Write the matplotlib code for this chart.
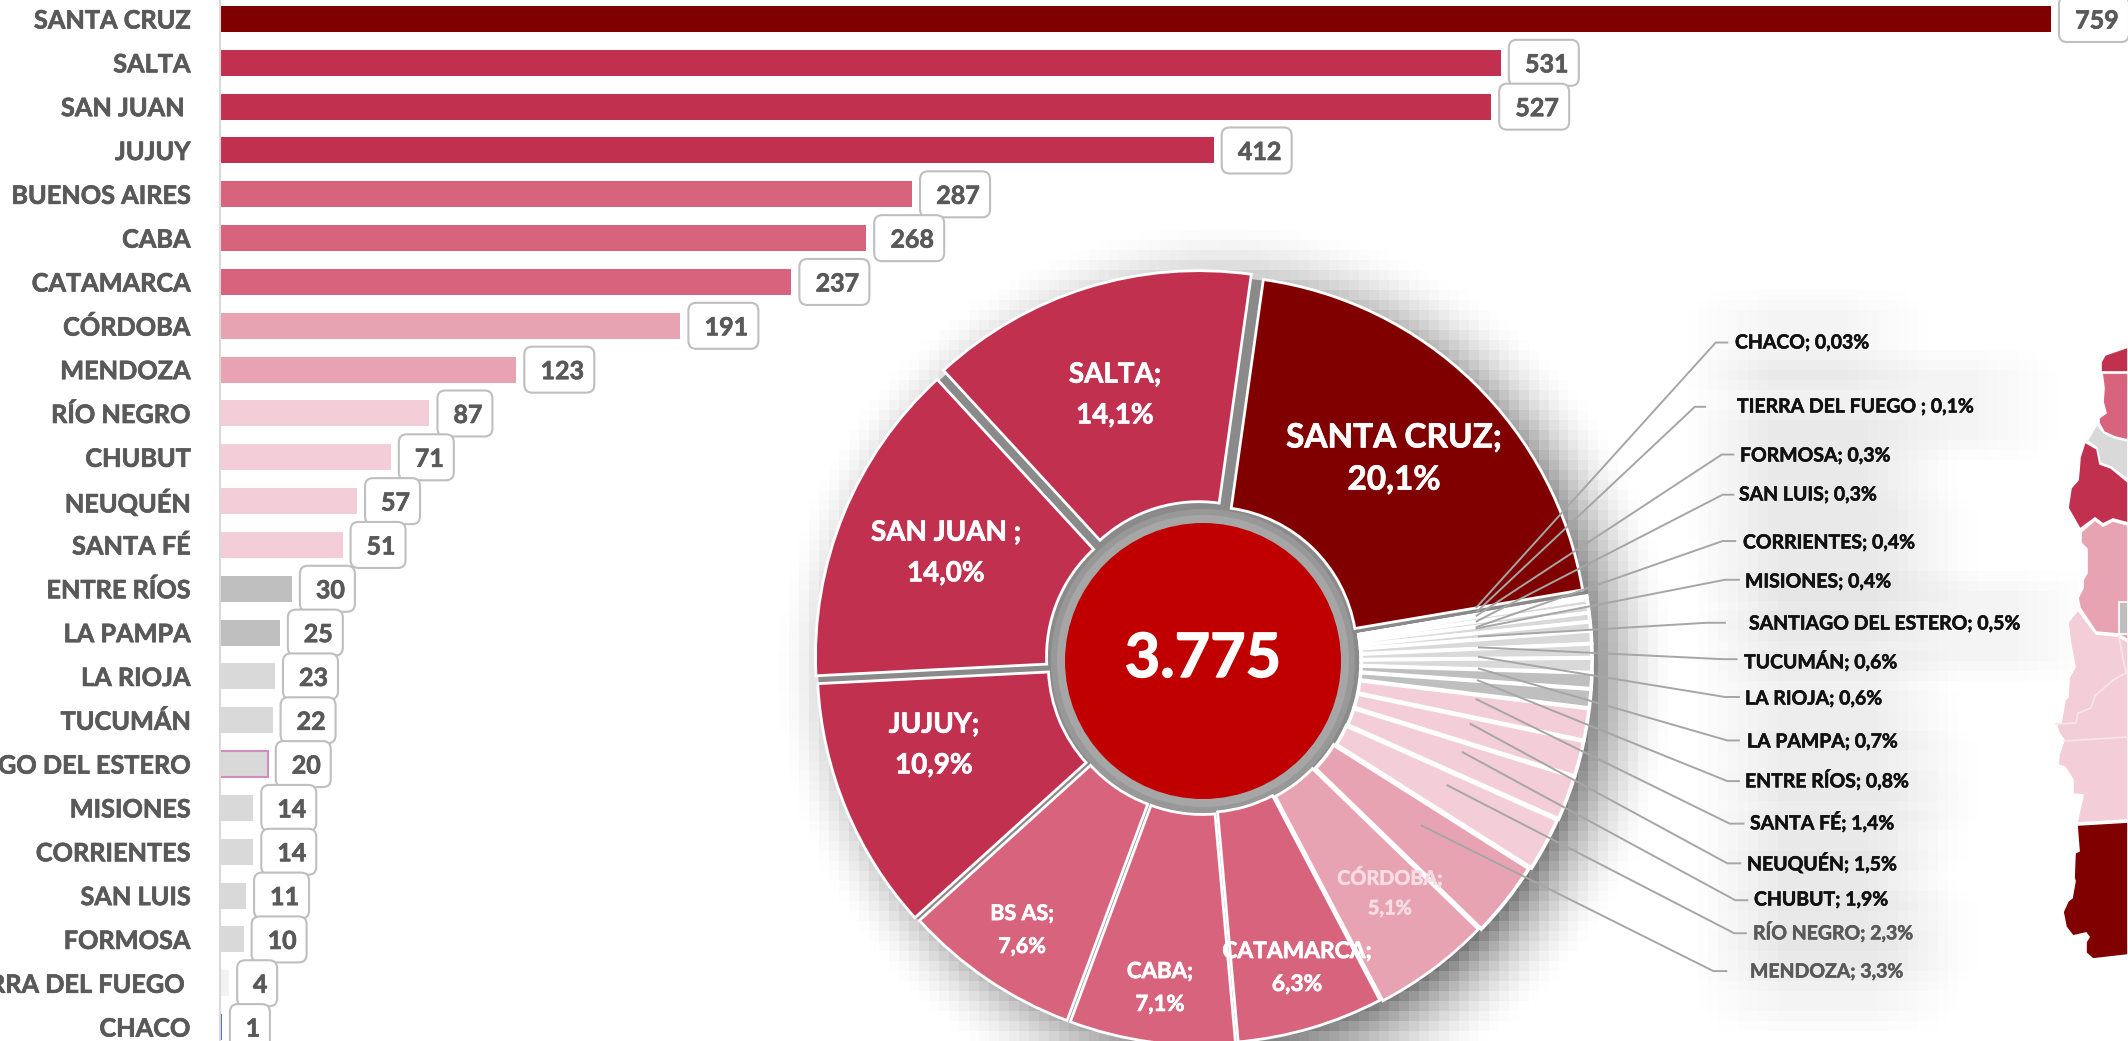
import numpy as np
import matplotlib
matplotlib.use('Agg')
import matplotlib.pyplot as plt
import matplotlib.patheffects as pe
from matplotlib.patches import Circle, Polygon, FancyBboxPatch
from matplotlib.transforms import IdentityTransform

plt.rcParams['font.family'] = ['Lato', 'DejaVu Sans']
plt.rcParams['font.weight'] = 'bold'

W, H = 2128, 1041

# ---- datos ----
provincias = ['SANTA CRUZ', 'SALTA', 'SAN JUAN ', 'JUJUY', 'BUENOS AIRES', 'CABA', 'CATAMARCA',
              'CÓRDOBA', 'MENDOZA', 'RÍO NEGRO', 'CHUBUT', 'NEUQUÉN', 'SANTA FÉ', 'ENTRE RÍOS',
              'LA PAMPA', 'LA RIOJA', 'TUCUMÁN', 'SANTIAGO DEL ESTERO', 'MISIONES', 'CORRIENTES',
              'SAN LUIS', 'FORMOSA', 'TIERRA DEL FUEGO ', 'CHACO']
valores = [759, 531, 527, 412, 287, 268, 237, 191, 123, 87, 71, 57, 51, 30, 25, 23, 22, 20,
           14, 14, 11, 10, 4, 1]
total = '3.775'

ROJO_OSC, ROJO, ROSA, ROSA2, ROSA3 = '#800000', '#C1304F', '#D8637D', '#E8A3B3', '#F3CDD7'
GRIS, GRIS2, GRIS3 = '#BFBFBF', '#D9D9D9', '#F2F2F2'
colores = [ROJO_OSC, ROJO, ROJO, ROJO, ROSA, ROSA, ROSA, ROSA2, ROSA2, ROSA3, ROSA3, ROSA3, ROSA3,
           GRIS, GRIS, GRIS2, GRIS2, GRIS2, GRIS2, GRIS2, GRIS2, GRIS2, GRIS3, '#FFFFFF']

# etiquetas de la torta: texto, x, y (px desde arriba), tamaño, interlineado
etq_torta = [('SANTA CRUZ;\n20,1%', 1394, 459, 24, 1.55), ('SALTA;\n14,1%', 1115, 395, 20, 1.7),
             ('SAN JUAN ;\n14,0%', 946, 553, 20, 1.7), ('JUJUY;\n10,9%', 934, 745, 20, 1.7),
             ('BS AS;\n7,6%', 1022, 930, 15.5, 1.7), ('CABA;\n7,1%', 1160, 988, 16, 1.7),
             ('CATAMARCA;\n6,3%', 1297, 968, 16.4, 1.7), ('CÓRDOBA;\n5,1%', 1390, 892, 14.3, 1.6)]

# etiquetas externas y lineas guia (inicio, codo, fin en coordenadas del recorte)
etq_ext = ['CHACO; 0,03%', 'TIERRA DEL FUEGO ; 0,1%', 'FORMOSA; 0,3%', 'SAN LUIS; 0,3%',
           'CORRIENTES; 0,4%', 'MISIONES; 0,4%', 'SANTIAGO DEL ESTERO; 0,5%', 'TUCUMÁN; 0,6%',
           'LA RIOJA; 0,6%', 'LA PAMPA; 0,7%', 'ENTRE RÍOS; 0,8%', 'SANTA FÉ; 1,4%',
           'NEUQUÉN; 1,5%', 'CHUBUT; 1,9%', 'RÍO NEGRO; 2,3%', 'MENDOZA; 3,3%']
etq_x = [1735, 1737, 1740, 1739, 1743, 1745, 1749, 1744, 1745, 1747, 1745, 1750, 1747, 1754, 1753, 1750]
etq_y = [343, 407, 456, 495, 543, 582, 624, 661, 699, 742, 780, 822, 863, 900, 932, 972]
guias = [((165, 650), (680, 90), (705, 90)), ((165, 660), (635, 226), (657, 226)),
         ((165, 668), (693, 327), (718, 327)), ((165, 680), (695, 412), (718, 412)),
         ((165, 692), (695, 510), (722, 510)), ((165, 695), (700, 592), (730, 592)),
         ((170, 712), (660, 683), (700, 683)), ((170, 735), (695, 760), (725, 760)),
         ((170, 755), (700, 840), (730, 840)), ((170, 780), (705, 932), (730, 932)),
         ((168, 805), (705, 1018), (730, 1018)), ((165, 845), (710, 1108), (740, 1108)),
         ((152, 897), (705, 1192), (733, 1192)), ((135, 957), (722, 1270), (748, 1270)),
         ((102, 1027), (720, 1340), (745, 1340)), ((47, 1112), (675, 1420), (703, 1420))]

# mapa recortado (px desde arriba)
mapa = [
    (ROJO, [(2101, 372), (2101, 362), (2105, 355), (2128, 347), (2128, 372)]),
    (ROSA, [(2102, 373), (2104, 388), (2103, 402), (2106, 413), (2099, 418), (2099, 423), (2104, 432),
            (2115, 437), (2128, 440), (2128, 373)]),
    (GRIS2, [(2097, 424), (2087, 441), (2097, 448), (2100, 463), (2111, 467), (2128, 480), (2128, 441),
             (2115, 438), (2104, 433)]),
    (ROJO, [(2085, 442), (2080, 457), (2079, 470), (2078, 480), (2071, 488), (2068, 508), (2080, 529),
            (2095, 518), (2103, 524), (2113, 519), (2128, 523), (2128, 482), (2111, 468), (2100, 464),
            (2097, 449)]),
    (ROSA2, [(2081, 532), (2081, 543), (2087, 549), (2087, 573), (2083, 580), (2083, 588), (2078, 598),
             (2080, 608), (2096, 632), (2118, 634), (2128, 640), (2128, 525), (2113, 521), (2103, 526),
             (2095, 520)]),
    (ROSA3, [(2078, 610), (2068, 622), (2070, 640), (2075, 667), (2069, 678), (2068, 697), (2065, 700),
             (2061, 723), (2056, 724), (2059, 733), (2064, 740), (2059, 755), (2058, 765), (2065, 767),
             (2073, 780), (2073, 794), (2083, 795), (2077, 823), (2128, 820), (2128, 642), (2118, 636),
             (2096, 634)]),
    (ROJO_OSC, [(2077, 825), (2079, 851), (2075, 853), (2074, 878), (2075, 881), (2072, 898), (2068, 901),
                (2063, 912), (2066, 927), (2073, 936), (2086, 933), (2089, 937), (2086, 942), (2086, 953),
                (2093, 959), (2128, 955), (2128, 822)]),
    (GRIS, [(2119, 602), (2128, 602), (2128, 634), (2119, 634)]),
]
mapa_lineas = [[(2119, 636), (2122, 653), (2126, 673), (2113, 680), (2095, 696), (2091, 708), (2078, 713),
                (2076, 723), (2056, 724)], [(2064, 741), (2128, 737)]]


def grueso(txt, col, ancho=0.5):
    # Lato Bold queda algo mas fino que el original
    txt.set_path_effects([pe.withStroke(linewidth=ancho, foreground=col)])


# ---- barras ----
fig = plt.figure(figsize=(W / 100, H / 100), dpi=100, facecolor='white')
x0, px_unidad = 219.5, (2051 - 219.5) / 759
y0, paso = 19.0, 43.83
ax_b = fig.add_axes([x0 / W, 0, 1 - x0 / W, 1], zorder=1)
y = np.arange(len(valores))
barras = ax_b.barh(y, valores, height=26 / paso, color=colores)
barras[17].set_edgecolor('#D08CC0')
barras[17].set_linewidth(1.5)
barras[23].set_facecolor('#4472C4')
ax_b.set_xlim(0, (W - x0) / px_unidad)
ax_b.set_ylim((H - y0) / paso, -y0 / paso)
ax_b.set_yticks(y, provincias, fontsize=18.2, color='#595959', fontweight='bold')
for lab in ax_b.get_yticklabels():
    grueso(lab, '#595959')
ax_b.tick_params(axis='y', length=0, pad=21)
ax_b.set_xticks([])
for s in ['top', 'right', 'bottom']:
    ax_b.spines[s].set_visible(False)
ax_b.spines['left'].set_color('#D9D9D9')
ax_b.spines['left'].set_linewidth(1.5)

# cajas de valor: ancho fijo segun cantidad de digitos
ancho_caja = {1: 40, 2: 55, 3: 70}
for yi, v in zip(y, valores):
    px, py = ax_b.transData.transform((v, yi))
    w = ancho_caja[len(str(v))]
    ax_b.add_patch(FancyBboxPatch((px + 8, py - 23), w, 46, boxstyle='round,pad=0,rounding_size=8',
                                  fc='white', ec='#BFBFBF', lw=1.5, transform=IdentityTransform(),
                                  clip_on=False, zorder=3))
    t = ax_b.annotate(str(v), (v, yi), xytext=(px + 8 + w / 2 + 3, py), xycoords='data', textcoords='figure pixels',
                      ha='center', va='center_baseline', fontsize=18, color='#595959', fontweight='bold',
                      annotation_clip=False, zorder=4)
    grueso(t, '#595959')

# ---- capa en pixeles: sombra, mapa, torta ----
ax = fig.add_axes([0, 0, 1, 1], zorder=2)
ax.patch.set_alpha(0)
cx, cy, R = 1203, H - 661, 377

# sombra difusa de la torta y de las etiquetas
step = 10
xs = np.arange(step / 2, W, step)
ys = np.arange(step / 2, H, step)
xx, yy = np.meshgrid(xs, ys)
d = np.hypot(xx - (cx + 25), yy - (661 + 12))
sombra = 0.72 * np.clip((385 + 70 - d) / 110, 0, 1) ** 2
glow = np.zeros_like(xx)
for t, lx, ly in zip(etq_ext, etq_x, etq_y):
    glow[(xx > lx - 10) & (xx < lx + len(t) * 12 + 10) & (yy > ly - 14) & (yy < ly + 14)] = 1
k = np.ones(9) / 9
glow = np.apply_along_axis(lambda f: np.convolve(f, k, 'same'), 0, glow)
glow = np.apply_along_axis(lambda f: np.convolve(f, k, 'same'), 1, glow)
alfa = np.maximum(sombra, 0.13 * glow)
rgba = np.zeros(xx.shape + (4,))
rgba[..., 3] = alfa
ax.imshow(rgba, extent=(0, W, 0, H), origin='upper', aspect='auto', interpolation='nearest', zorder=0)

for col, pts in mapa:
    ax.add_patch(Polygon([(a, H - b) for a, b in pts], closed=True, fc=col, ec='white', lw=1.2, zorder=1))
for pts in mapa_lineas:
    ax.plot([a for a, b in pts], [H - b for a, b in pts], color='#F7E6EB', lw=1.2, zorder=1.5)

ax.add_patch(Circle((cx, cy), R + 8, fc='#8A8A8A', ec='none', zorder=1))

# torta: sentido horario desde Santa Cruz
v_torta = [valores[0]] + valores[:0:-1]
c_torta = [colores[0]] + colores[:0:-1]
explode = [0.03] + [0.032] * 12 + [0.032, 0.032, 0.03, 0.025, 0.02, 0.015, 0.02, 0.02, 0.025, 0.03, 0.037, 0.053]
explode = explode[:len(v_torta)]
cunas, _ = ax.pie(v_torta, colors=c_torta, explode=[e * R for e in explode], startangle=82, counterclock=False,
                  center=(cx, cy), radius=R, frame=True,
                  wedgeprops=dict(width=R - 146, edgecolor='white', linewidth=2, zorder=2))
for c in cunas[1:17]:
    c.set_linewidth(2.6)
for r, col in zip([158, 152, 146], ['#8A8A8A', '#989898', '#A6A6A6']):
    ax.add_patch(Circle((cx, cy), r, fc=col, ec='none', zorder=1.5))
ax.add_patch(Circle((cx, cy), 138, fc='#C00000', ec='none', zorder=3))
t = ax.text(cx, H - 659, total, color='white', fontsize=44, fontweight='bold', ha='center', va='center', zorder=6)
grueso(t, 'white', 1)

for t, tx, ty, fs, ls in etq_torta:
    col = '#F7DDE3' if t.startswith('CÓRDOBA') else 'white'
    lab = ax.text(tx, H - ty, t, color=col, fontsize=fs, fontweight='bold', ha='center', va='center',
                  linespacing=ls, zorder=6)
    grueso(lab, col)

for g in guias:
    gx = [1400 + p[0] / 2.154 for p in g]
    gy = [H - (300 + p[1] / 2.116) for p in g]
    ax.plot(gx, gy, color='#A6A6A6', lw=1.4, zorder=4)
for t, lx, ly in zip(etq_ext, etq_x, etq_y):
    col = '#595959' if t.startswith(('RÍO', 'MENDOZA')) else '#111111'
    lab = ax.text(lx, H - ly, t, color=col, fontsize=14, fontweight='bold', ha='left', va='center', zorder=6)
    grueso(lab, col, 0.4)

ax.set_xlim(0, W)
ax.set_ylim(0, H)
ax.set_aspect('auto')
ax.axis('off')

fig.savefig('out.png', dpi=100)
